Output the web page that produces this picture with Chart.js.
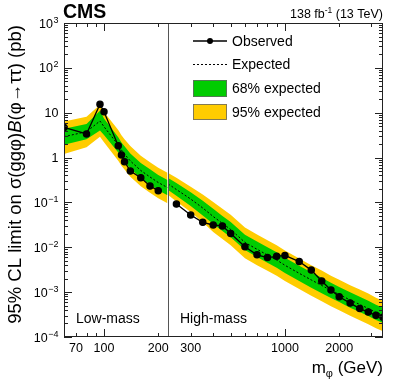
<!DOCTYPE html>
<html>
<head>
<meta charset="utf-8">
<script src="https://cdn.jsdelivr.net/npm/chart.js@4.4.1/dist/chart.umd.min.js"></script>
<style>
  html, body { margin: 0; padding: 0; background: #fff; }
  #limitChart { display: block; }
</style>
</head>
<body>
<canvas id="limitChart" width="399" height="383"></canvas>
<script>
// Low-mass analysis (GeV, pb)
const lowMass = [60, 80, 95, 100, 120, 125, 130, 140, 160, 180, 200];
const lowObserved = [4.7, 3.36, 15.4, 10.5, 1.84, 1.14, 0.81, 0.50, 0.356, 0.232, 0.183];
const lowBandMass = [60, 80, 95, 100, 120, 125, 130, 140, 160, 180, 200, 225];
const lowExpected = [2.92, 3.78, 6.53, 4.88, 1.91, 1.47, 1.20, 0.84, 0.515, 0.369, 0.278, 0.215];
const lowMinus2 = [1.2, 1.69, 2.9, 2.2, 0.85, 0.66, 0.54, 0.375, 0.23, 0.165, 0.124, 0.096];
const lowMinus1 = [1.92, 2.55, 4.0, 3.2, 1.29, 0.99, 0.81, 0.57, 0.348, 0.25, 0.188, 0.145];
const lowPlus1 = [4.4, 5.6, 11.0, 7.4, 2.83, 2.18, 1.78, 1.24, 0.76, 0.546, 0.41, 0.318];
const lowPlus2 = [6.4, 8.1, 15.0, 10.4, 4.1, 3.15, 2.57, 1.8, 1.10, 0.79, 0.595, 0.46];

// High-mass analysis (GeV, pb)
const highMass = [250, 300, 350, 400, 450, 500, 600, 700, 800, 900, 1000, 1200, 1400, 1600, 1800, 2000, 2300, 2600, 2900, 3200, 3500];
const highObserved = [0.092, 0.0525, 0.036, 0.0314, 0.0299, 0.0204, 0.0103, 0.0068, 0.0059, 0.0063, 0.0066, 0.0048, 0.0031, 0.00177, 0.00112, 0.00079, 0.00057, 0.00043, 0.00036, 0.000305, 0.000275];
const highBandMass = [225, 250, 300, 350, 400, 450, 500, 600, 700, 800, 900, 1000, 1200, 1400, 1600, 1800, 2000, 2300, 2600, 2900, 3200, 3500];
const highExpected = [0.258, 0.194, 0.119, 0.0752, 0.0486, 0.034, 0.0249, 0.01285, 0.00902, 0.00673, 0.00521, 0.00397, 0.00263, 0.00187, 0.00141, 0.00109, 0.000887, 0.000668, 0.000531, 0.000433, 0.000352, 0.000302];
const highMinus2 = [0.147, 0.105, 0.061, 0.036, 0.022, 0.0153, 0.0111, 0.0057, 0.0040, 0.0030, 0.00233, 0.00177, 0.00117, 0.00083, 0.00063, 0.000487, 0.000396, 0.000298, 0.000237, 0.000193, 0.000157, 0.000135];
const highMinus1 = [0.19, 0.14, 0.083, 0.051, 0.033, 0.023, 0.0168, 0.0087, 0.0061, 0.00455, 0.00352, 0.00268, 0.00178, 0.00126, 0.00095, 0.00074, 0.0006, 0.000451, 0.000359, 0.000293, 0.000238, 0.000204];
const highPlus1 = [0.35, 0.27, 0.168, 0.109, 0.072, 0.050, 0.0368, 0.019, 0.0134, 0.00996, 0.00771, 0.00588, 0.00389, 0.00277, 0.00209, 0.00161, 0.00131, 0.00099, 0.000786, 0.000641, 0.000521, 0.000447];
const highPlus2 = [0.455, 0.355, 0.225, 0.150, 0.102, 0.072, 0.053, 0.0275, 0.0193, 0.0144, 0.01115, 0.0085, 0.00563, 0.0040, 0.00302, 0.00233, 0.0019, 0.00143, 0.00114, 0.000927, 0.000753, 0.000646];

// Axis ticks
const lowTicks = [70, 80, 90, 100, 200];
const highTicks = [300, 400, 500, 600, 700, 800, 900, 1000, 2000, 3000];
const lowTickLabels = [70, 100, 200];
const highTickLabels = [300, 1000, 2000];
const yDecades = [-4, -3, -2, -1, 0, 1, 2, 3];

// Panel ranges of the broken x axis
const LOW_MIN = 60, LOW_MAX = 226, HIGH_MIN = 224, HIGH_MAX = 3500;
const FONT = '"Liberation Sans", Arial, Helvetica, sans-serif';

function lowU(m) { return Math.log10(m / LOW_MIN); }
function highU(m) { return Math.log10(LOW_MAX / LOW_MIN) + Math.log10(m / HIGH_MIN); }

function pts(masses, values, toU) {
    return masses.map((m, i) => ({ x: toU(m), y: values[i] }));
}

function band(masses, values, toU, color, fillTarget, order) {
    return {
        data: pts(masses, values, toU),
        borderWidth: 0,
        pointRadius: 0,
        backgroundColor: color,
        fill: fillTarget,
        order: order
    };
}

const GREEN = '#00cc00';
const YELLOW = '#ffcc00';

// datasets: indices matter for fill targets
const datasets = [
    // 0..3 low yellow / green
    band(lowBandMass, lowPlus2, lowU, YELLOW, 1, 6),
    band(lowBandMass, lowMinus2, lowU, YELLOW, false, 6),
    band(lowBandMass, lowPlus1, lowU, GREEN, 3, 5),
    band(lowBandMass, lowMinus1, lowU, GREEN, false, 5),
    // 4..7 high yellow / green
    band(highBandMass, highPlus2, highU, YELLOW, 5, 6),
    band(highBandMass, highMinus2, highU, YELLOW, false, 6),
    band(highBandMass, highPlus1, highU, GREEN, 7, 5),
    band(highBandMass, highMinus1, highU, GREEN, false, 5),
    // expected
    {
        data: pts(lowBandMass, lowExpected, lowU),
        borderColor: '#000', borderWidth: 1, borderDash: [2, 2],
        pointRadius: 0, fill: false, order: 2
    },
    {
        data: pts(highBandMass, highExpected, highU),
        borderColor: '#000', borderWidth: 1, borderDash: [2, 2],
        pointRadius: 0, fill: false, order: 2
    },
    // observed
    {
        data: pts(lowMass, lowObserved, lowU),
        borderColor: '#000', borderWidth: 1.3,
        pointRadius: 3.1, pointBackgroundColor: '#000', pointBorderColor: '#000',
        fill: false, order: 1
    },
    {
        data: pts(highMass, highObserved, highU),
        borderColor: '#000', borderWidth: 1.3,
        pointRadius: 3.1, pointBackgroundColor: '#000', pointBorderColor: '#000',
        fill: false, order: 1
    }
];

// Draws "10" with exponent, right aligned
function drawPower(ctx, exp, xRight, yMid) {
    ctx.fillStyle = '#000';
    ctx.textBaseline = 'alphabetic';
    ctx.textAlign = 'left';
    const base = exp === 0 ? '1' : '10';
    const sup = (exp === 0 || exp === 1) ? '' : (exp < 0 ? '\u2212' + (-exp) : String(exp));
    ctx.font = '12.5px ' + FONT;
    const wb = ctx.measureText(base).width;
    ctx.font = '9px ' + FONT;
    const ws = sup ? ctx.measureText(sup).width + 0.5 : 0;
    const x0 = xRight - wb - ws;
    ctx.font = '12.5px ' + FONT;
    ctx.fillText(base, x0, yMid + 4.5);
    if (sup) {
        ctx.font = '9px ' + FONT;
        ctx.fillText(sup, x0 + wb + 0.5, yMid - 0.5);
    }
}

const decorations = {
    id: 'decorations',
    afterDatasetsDraw(chart) {
        const ctx = chart.ctx;
        const a = chart.chartArea;
        const xs = chart.scales.x;
        const ys = chart.scales.y;
        ctx.save();

        // Separator between the two analyses
        const sepX = Math.round(xs.getPixelForValue(lowU(LOW_MAX))) + 0.5;
        ctx.strokeStyle = '#555';
        ctx.lineWidth = 1;
        ctx.beginPath();
        ctx.moveTo(sepX, a.top);
        ctx.lineTo(sepX, a.bottom);
        ctx.stroke();

        // Frame
        ctx.strokeStyle = '#222';
        ctx.lineWidth = 1;
        ctx.strokeRect(Math.round(a.left) + 0.5, Math.round(a.top) + 0.5,
            Math.round(a.right - a.left) - 1, Math.round(a.bottom - a.top) - 1);

        // y ticks (left and right, inside)
        ctx.beginPath();
        yDecades.forEach(d => {
            for (let k = 1; k <= 9; k++) {
                const v = k * Math.pow(10, d);
                if (v > 1e3 + 1e-9) continue;
                const y = Math.round(ys.getPixelForValue(v)) + 0.5;
                const len = k === 1 ? 8 : 4;
                ctx.moveTo(a.left, y); ctx.lineTo(a.left + len, y);
                ctx.moveTo(a.right, y); ctx.lineTo(a.right - len, y);
            }
        });
        // x ticks (bottom and top, inside)
        const xTick = (u, len) => {
            const x = Math.round(xs.getPixelForValue(u)) + 0.5;
            ctx.moveTo(x, a.bottom); ctx.lineTo(x, a.bottom - len);
            ctx.moveTo(x, a.top); ctx.lineTo(x, a.top + len);
        };
        lowTicks.forEach(m => xTick(lowU(m), m === 100 ? 8 : 4));
        highTicks.forEach(m => xTick(highU(m), m === 1000 ? 8 : 4));
        ctx.stroke();

        // y labels
        yDecades.forEach(d => {
            drawPower(ctx, d, 58.5, ys.getPixelForValue(Math.pow(10, d)));
        });

        // x labels
        ctx.fillStyle = '#000';
        ctx.font = '12.5px ' + FONT;
        ctx.textAlign = 'center';
        ctx.textBaseline = 'alphabetic';
        lowTickLabels.forEach(m => ctx.fillText(String(m), xs.getPixelForValue(lowU(m)), 352));
        highTickLabels.forEach(m => ctx.fillText(String(m), xs.getPixelForValue(highU(m)), 352));

        // x title: m_phi (GeV)
        ctx.textAlign = 'left';
        ctx.font = '17px ' + FONT;
        const wM = ctx.measureText('m').width;
        const wRest = ctx.measureText(' (GeV)').width;
        ctx.font = '11px ' + FONT;
        const wPhi = ctx.measureText('\u03c6').width;
        let tx = a.right - wM - wPhi - wRest;
        ctx.font = '17px ' + FONT;
        ctx.fillText('m', tx, 373);
        ctx.font = '11px ' + FONT;
        ctx.fillText('\u03c6', tx + wM, 377);
        ctx.font = '17px ' + FONT;
        ctx.fillText(' (GeV)', tx + wM + wPhi, 373);

        // y title, rotated, aligned to top
        const parts = [
            ['95% CL limit on \u03c3(gg\u03c6)', ''],
            ['B', 'italic '],
            ['(\u03c6\u2192\u03c4\u03c4) (pb)', '']
        ];
        ctx.save();
        ctx.translate(21, 25);
        ctx.rotate(-Math.PI / 2);
        let total = 0;
        parts.forEach(p => { ctx.font = p[1] + '18.5px ' + FONT; total += ctx.measureText(p[0]).width; });
        let px = -total;
        parts.forEach(p => {
            ctx.font = p[1] + '18.5px ' + FONT;
            ctx.fillText(p[0], px, 0);
            px += ctx.measureText(p[0]).width;
        });
        ctx.restore();

        // CMS and luminosity
        ctx.font = 'bold 19.5px ' + FONT;
        ctx.fillText('CMS', 63, 18);
        ctx.font = '12.5px ' + FONT;
        const w1 = ctx.measureText('138 fb').width;
        const w3 = ctx.measureText(' (13 TeV)').width;
        ctx.font = '8.5px ' + FONT;
        const w2 = ctx.measureText('-1').width;
        let lx = a.right - w1 - w2 - w3;
        ctx.font = '12.5px ' + FONT;
        ctx.fillText('138 fb', lx, 18);
        ctx.font = '8.5px ' + FONT;
        ctx.fillText('-1', lx + w1, 12.5);
        ctx.font = '12.5px ' + FONT;
        ctx.fillText(' (13 TeV)', lx + w1 + w2, 18);

        // Panel labels
        ctx.font = '14px ' + FONT;
        ctx.fillText('Low-mass', 76, 323);
        ctx.fillText('High-mass', 180, 323);

        // Legend
        const lx0 = 193, lx1 = 227, tx0 = 232;
        ctx.strokeStyle = '#000';
        ctx.lineWidth = 1.3;
        ctx.beginPath();
        ctx.moveTo(lx0, 41); ctx.lineTo(lx1, 41);
        ctx.stroke();
        ctx.beginPath();
        ctx.arc(210, 41, 3.0, 0, Math.PI * 2);
        ctx.fillStyle = '#000';
        ctx.fill();
        ctx.lineWidth = 1;
        ctx.setLineDash([2, 2]);
        ctx.beginPath();
        ctx.moveTo(lx0, 64.5); ctx.lineTo(lx1, 64.5);
        ctx.stroke();
        ctx.setLineDash([]);
        ctx.fillStyle = GREEN;
        ctx.fillRect(lx0, 80, lx1 - lx0, 17);
        ctx.fillStyle = YELLOW;
        ctx.fillRect(lx0, 104, lx1 - lx0, 16);
        ctx.strokeStyle = '#666';
        ctx.lineWidth = 0.8;
        ctx.strokeRect(lx0 + 0.5, 80.5, lx1 - lx0 - 1, 16);
        ctx.strokeRect(lx0 + 0.5, 104.5, lx1 - lx0 - 1, 15);

        ctx.fillStyle = '#000';
        ctx.font = '14px ' + FONT;
        ctx.textBaseline = 'middle';
        ctx.fillText('Observed', tx0, 42);
        ctx.fillText('Expected', tx0, 65);
        ctx.fillText('68% expected', tx0, 89.5);
        ctx.fillText('95% expected', tx0, 113);

        ctx.restore();
    }
};

document.addEventListener('DOMContentLoaded', function () {
    const ctx = document.getElementById('limitChart').getContext('2d');
    new Chart(ctx, {
        type: 'line',
        data: { datasets: datasets },
        options: {
            responsive: false,
            animation: false,
            layout: { padding: { left: 64, right: 16, top: 23, bottom: 46 } },
            elements: { line: { tension: 0 } },
            scales: {
                x: { type: 'linear', min: 0, max: highU(HIGH_MAX), display: false },
                y: { type: 'logarithmic', min: 1e-4, max: 1e3, display: false }
            },
            plugins: {
                legend: { display: false },
                tooltip: { enabled: false }
            }
        },
        plugins: [decorations]
    });
});
</script>
</body>
</html>
